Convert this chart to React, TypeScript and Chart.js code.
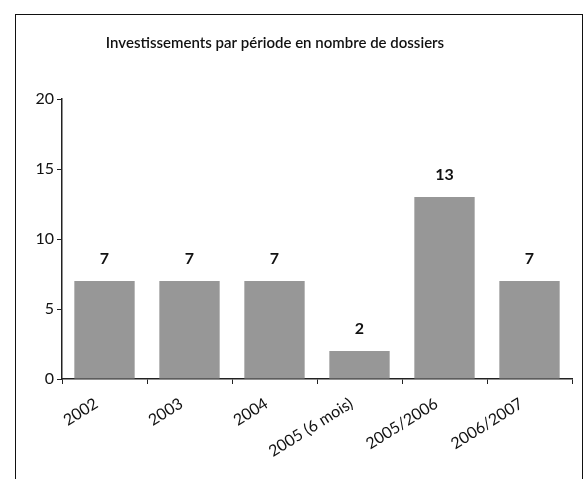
import React, { useEffect, useRef } from "react";
import { Chart, registerables } from "chart.js";

Chart.register(...registerables);

const categories = ["2002", "2003", "2004", "2005 (6 mois)", "2005/2006", "2006/2007"];
const dossiers = [7, 7, 7, 2, 13, 7];
const yTicks = [0, 5, 10, 15, 20];
const titleText = "Investissements par période en nombre de dossiers";

const FONT = "Lato, 'Open Sans', sans-serif";

const valueLabels = {
  id: "valueLabels",
  afterDatasetsDraw(chart: any) {
    const ctx = chart.ctx;
    const meta = chart.getDatasetMeta(0);
    ctx.save();
    ctx.fillStyle = "#111";
    ctx.font = `bold 16px ${FONT}`;
    ctx.textAlign = "center";
    ctx.textBaseline = "middle";
    meta.data.forEach((bar: any, i: number) => {
      ctx.fillText(String(dossiers[i]), bar.x, bar.y - 22);
    });
    ctx.restore();
  },
};

const titlePlugin = {
  id: "customTitle",
  afterDraw(chart: any) {
    const ctx = chart.ctx;
    ctx.save();
    ctx.fillStyle = "#111";
    ctx.font = `600 15px ${FONT}`;
    ctx.textAlign = "center";
    ctx.textBaseline = "middle";
    ctx.fillText(titleText, 275, 43);
    ctx.restore();
  },
};

export default function App() {
  const ref = useRef<HTMLCanvasElement>(null);
  useEffect(() => {
    if (!ref.current) return;
    const chart = new Chart(ref.current, {
      type: "bar",
      data: {
        labels: categories,
        datasets: [
          {
            data: dossiers,
            backgroundColor: "#979797",
            borderWidth: 0,
            categoryPercentage: 0.71,
            barPercentage: 1,
          },
        ],
      },
      plugins: [valueLabels, titlePlugin],
      options: {
        animation: false,
        responsive: false,
        maintainAspectRatio: false,
        layout: { padding: { top: 99, right: 12, left: 0, bottom: 0 } },
        plugins: { legend: { display: false }, tooltip: { enabled: false }, title: { display: false } },
        scales: {
          x: {
            afterFit(scale: any) {
              scale.height = 100;
            },
            grid: { drawOnChartArea: false, drawTicks: true, tickLength: 5, color: "#222", offset: true },
            border: { display: true, color: "#222", width: 1.5 },
            ticks: {
              color: "#111",
              font: { family: FONT, size: 16 },
              minRotation: 32,
              maxRotation: 32,
              autoSkip: false,
              padding: 10,
              labelOffset: -8,
            },
          },
          y: {
            min: 0,
            max: 20,
            afterFit(scale: any) {
              scale.width = 62;
            },
            afterBuildTicks(scale: any) {
              scale.ticks = yTicks.map((v) => ({ value: v }));
            },
            grid: { drawOnChartArea: false, drawTicks: true, tickLength: 5, color: "#222" },
            border: { display: true, color: "#222", width: 1.5 },
            ticks: {
              color: "#111",
              font: { family: FONT, size: 16 },
              padding: 3,
            },
          },
        },
      },
    });
    return () => chart.destroy();
  }, []);

  return (
    <div style={{ position: "fixed", left: 0, top: 0, width: 584, height: 479, background: "#fff", overflow: "hidden" }}>
      <div
        style={{
          position: "absolute",
          left: 15,
          top: 14,
          width: 566,
          height: 480,
          borderLeft: "1.5px solid #111",
          borderTop: "1.5px solid #111",
          borderRight: "1.5px solid #111",
        }}
      />
      <canvas ref={ref} width={584} height={479} style={{ position: "absolute", left: 0, top: 0 }} />
    </div>
  );
}
